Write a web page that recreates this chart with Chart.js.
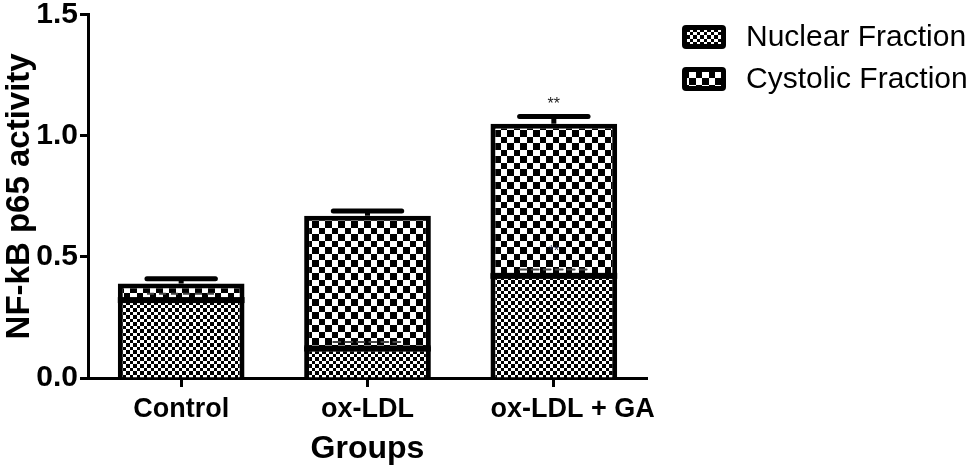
<!DOCTYPE html>
<html>
<head>
<meta charset="utf-8">
<script src="https://cdn.jsdelivr.net/npm/chart.js@4/dist/chart.umd.min.js"></script>
<style>
  html, body { margin: 0; padding: 0; background: #fff; }
  #wrap { width: 972px; height: 468px; }
</style>
</head>
<body>
<div id="wrap"><canvas id="c" width="972" height="468"></canvas></div>
<script>
// ---- data ----
const categories = ['Control', 'ox-LDL', 'ox-LDL + GA'];
const nuclearValues = [0.33, 0.13, 0.43];
const cytosolicValues = [0.06, 0.54, 0.62];
const nuclearErrors = [0.01, 0.01, 0.01];
const cytosolicErrors = [0.02, 0.02, 0.03];
const yTickValues = [0, 0.5, 1.0, 1.5];
const totalSignificance = ['', '', '**'];
const nuclearSignificance = ['', '', '**'];
const seriesNames = ['Nuclear Fraction', 'Cystolic Fraction'];

// ---- patterns ----
function checker(a, b) {
  const size = a + b;
  const cv = document.createElement('canvas');
  cv.width = size; cv.height = size;
  const g = cv.getContext('2d');
  g.fillStyle = '#fff'; g.fillRect(0, 0, size, size);
  g.fillStyle = '#000';
  g.fillRect(0, 0, a, a);
  g.fillRect(a, a, b, b);
  return g.createPattern(cv, 'repeat');
}
const ctx = document.getElementById('c').getContext('2d');
const nuclearPattern = checker(4, 3);
const cytosolicPattern = checker(7, 6);
const patterns = [nuclearPattern, cytosolicPattern];

const FONT = "'Liberation Sans', Arial, sans-serif";

const errorBarPlugin = {
  id: 'errorBars',
  afterDatasetsDraw(chart) {
    const c = chart.ctx;
    const ys = chart.scales.y;
    const m0 = chart.getDatasetMeta(0);
    const m1 = chart.getDatasetMeta(1);
    c.save();
    for (let i = 0; i < categories.length; i++) {
      const b0 = m0.data[i];
      const half = b0.width * 0.27;
      // separator between stacked segments (top border of nuclear segment)
      const nTopVal = ys.getPixelForValue(nuclearValues[i]);
      c.fillStyle = '#000';
      c.fillRect(b0.x - b0.width / 2, nTopVal - 1, b0.width, 6);
      // nuclear error (dashed, partly hidden look)
      const nTop = ys.getPixelForValue(nuclearValues[i] + nuclearErrors[i]);
      c.strokeStyle = '#444';
      c.lineWidth = 2;
      c.setLineDash([7, 5]);
      c.beginPath();
      c.moveTo(b0.x - half, nTop - 2);
      c.lineTo(b0.x + half, nTop - 2);
      c.stroke();
      c.setLineDash([]);
      if (nuclearSignificance[i]) {
        c.fillStyle = '#1b2340';
        c.font = '14px ' + FONT;
        c.textAlign = 'center';
        c.textBaseline = 'middle';
        c.fillText(nuclearSignificance[i], b0.x, nTop - 20);
      }
      // total (cytosolic on top) error
      const b1 = m1.data[i];
      const total = nuclearValues[i] + cytosolicValues[i];
      const top = ys.getPixelForValue(total);
      const eTop = ys.getPixelForValue(total + cytosolicErrors[i]);
      c.strokeStyle = '#000';
      c.lineWidth = 5;
      c.lineCap = 'butt';
      c.beginPath();
      c.moveTo(b1.x, top);
      c.lineTo(b1.x, eTop);
      c.stroke();
      c.lineCap = 'round';
      c.beginPath();
      c.moveTo(b1.x - half, eTop);
      c.lineTo(b1.x + half, eTop);
      c.stroke();
      if (totalSignificance[i]) {
        c.fillStyle = '#222';
        c.font = '16px ' + FONT;
        c.textAlign = 'center';
        c.textBaseline = 'middle';
        c.fillText(totalSignificance[i], b1.x, eTop - 12);
      }
    }
    c.restore();
  }
};

function roundRect(c, x, y, w, h, r) {
  c.beginPath();
  c.moveTo(x + r, y);
  c.lineTo(x + w - r, y);
  c.quadraticCurveTo(x + w, y, x + w, y + r);
  c.lineTo(x + w, y + h - r);
  c.quadraticCurveTo(x + w, y + h, x + w - r, y + h);
  c.lineTo(x + r, y + h);
  c.quadraticCurveTo(x, y + h, x, y + h - r);
  c.lineTo(x, y + r);
  c.quadraticCurveTo(x, y, x + r, y);
  c.closePath();
}

const legendPlugin = {
  id: 'customLegend',
  afterDraw(chart) {
    const c = chart.ctx;
    const x0 = chart.chartArea.right + 35;
    const rows = [25, 67];
    c.save();
    seriesNames.forEach((name, k) => {
      const y0 = rows[k];
      c.fillStyle = '#000';
      roundRect(c, x0, y0, 44, 24, 4);
      c.fill();
      c.fillStyle = patterns[k];
      c.fillRect(x0 + 5, y0 + 5, 34, 14);
      c.fillStyle = '#000';
      c.font = '30px ' + FONT;
      c.textAlign = 'left';
      c.textBaseline = 'middle';
      c.fillText(name, x0 + 64, y0 + 13);
    });
    c.restore();
  }
};

new Chart(ctx, {
  type: 'bar',
  data: {
    labels: categories,
    datasets: [
      {
        label: seriesNames[0],
        data: nuclearValues,
        backgroundColor: nuclearPattern,
        borderColor: '#000',
        borderWidth: 5,
        borderSkipped: 'start',
        barPercentage: 0.68,
        categoryPercentage: 1.0
      },
      {
        label: seriesNames[1],
        data: cytosolicValues,
        backgroundColor: cytosolicPattern,
        borderColor: '#000',
        borderWidth: 5,
        borderSkipped: 'start',
        barPercentage: 0.68,
        categoryPercentage: 1.0
      }
    ]
  },
  options: {
    responsive: false,
    animation: false,
    devicePixelRatio: 1,
    layout: { padding: { top: 13, right: 325, left: 0, bottom: 0 } },
    plugins: { legend: { display: false }, tooltip: { enabled: false } },
    scales: {
      x: {
        stacked: true,
        offset: true,
        grid: { display: true, drawOnChartArea: false, drawTicks: true, tickLength: 9, tickWidth: 3, tickColor: '#000', offset: false },
        border: { display: true, width: 3, color: '#000' },
        ticks: {
          color: '#000', font: { family: FONT, size: 27, weight: 'bold' }, padding: 6, maxRotation: 0, minRotation: 0, autoSkip: false,
          callback(v, i) { const t = categories[i]; return i === categories.length - 1 ? '     ' + t : t; }
        },
        title: { display: true, text: 'Groups', color: '#000', font: { family: FONT, size: 32, weight: 'bold' }, padding: { top: 0, bottom: 0 } },
        afterFit(scale) { scale.height = 90; }
      },
      y: {
        stacked: true,
        min: 0,
        max: 1.5,
        afterBuildTicks(scale) { scale.ticks = yTickValues.map(v => ({ value: v })); },
        grid: { display: true, drawOnChartArea: false, drawTicks: true, tickLength: 8, tickWidth: 3, tickColor: '#000' },
        border: { display: true, width: 3, color: '#000' },
        ticks: { color: '#000', font: { family: FONT, size: 30, weight: 'bold', lineHeight: 0.85 }, padding: 2, callback: v => Number(v).toFixed(1) },
        title: { display: true, text: 'NF-kB p65 activity', color: '#000', font: { family: FONT, size: 33, weight: 'bold' }, padding: { top: 0, bottom: 0 } },
        afterFit(scale) { scale.width = 88; }
      }
    }
  },
  plugins: [errorBarPlugin, legendPlugin]
});
</script>
</body>
</html>
